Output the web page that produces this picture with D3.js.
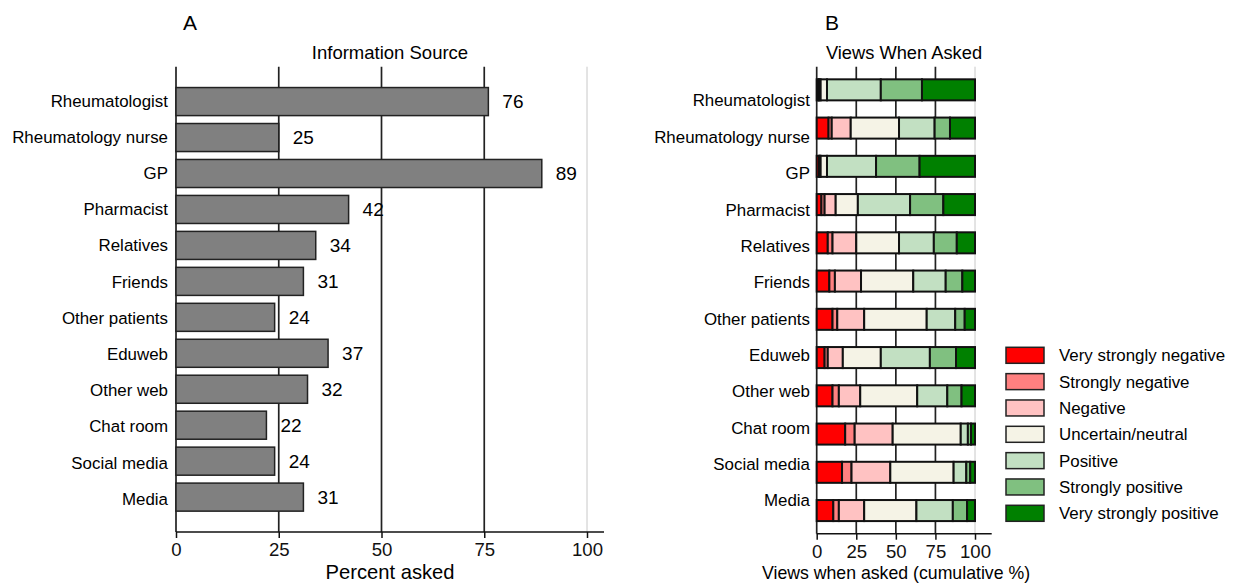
<!DOCTYPE html>
<html><head><meta charset="utf-8">
<script src="https://cdn.jsdelivr.net/npm/d3@7"></script>
<style>
body{margin:0;background:#fff;}
svg{font-family:"Liberation Sans",Arial,sans-serif;}
</style></head>
<body>
<svg id="chart" width="1234" height="585"></svg>
<script>
const categories = ["Rheumatologist","Rheumatology nurse","GP","Pharmacist","Relatives","Friends","Other patients","Eduweb","Other web","Chat room","Social media","Media"];
const percentAsked = [76,25,89,42,34,31,24,37,32,22,24,31];
const xTicks = [0,25,50,75,100];

const levelNames = ["Very strongly negative","Strongly negative","Negative","Uncertain/neutral","Positive","Strongly positive","Very strongly positive"];
const levelColors = ["#ff0000","#ff8080","#ffc2c2","#f5f3e6","#c2e0c2","#80c080","#008000"];
const veryStronglyNegative = [1, 7.5, 1.5, 3, 7, 8, 10, 5, 10, 18, 16, 10.5];
const stronglyNegative     = [0.5, 2, 0.5, 2, 3, 3.5, 3, 2, 4, 6, 6, 3.5];
const negative             = [1, 12, 0.5, 7, 15, 16.5, 17, 9.5, 13.5, 24, 24.5, 16];
const uncertainNeutral     = [4, 30.5, 4, 14, 27, 33, 39.5, 24, 36, 43, 40, 33];
const positive             = [34, 22.5, 31, 33, 22, 20.5, 18, 31, 19, 4.5, 8, 23];
const stronglyPositive     = [26, 9.7, 27.5, 21, 14.5, 10.5, 6, 16.5, 9, 2, 2.5, 9];
const veryStronglyPositive = [33.5, 15.8, 35, 20, 11.5, 8, 6.5, 12, 8.5, 2.5, 3, 5];
const levelSeries = [veryStronglyNegative, stronglyNegative, negative, uncertainNeutral, positive, stronglyPositive, veryStronglyPositive];

const svg = d3.select("#chart");
const dark = "#222";

// ---------- Panel A ----------
const xA = d3.scaleLinear().domain([0,100]).range([176,587]);
const yA = d3.scaleBand().domain(categories).range([66.7,532]).paddingInner(0.22).paddingOuter(0.58);
const yALab = d3.scalePoint().domain(categories).range([100.7,499]);
const gA = svg.append("g");

gA.append("text").attr("x",183).attr("y",30).attr("font-size",21).text("A");
gA.append("text").attr("x",390).attr("y",59).attr("text-anchor","middle").attr("font-size",18.5).text("Information Source");

gA.selectAll("line.grid").data(xTicks).join("line")
  .attr("x1",d=>xA(d)).attr("x2",d=>xA(d)).attr("y1",66.7).attr("y2",532)
  .attr("stroke",d=>d===100?"#c8c8c8":dark).attr("stroke-width",d=>d===100?1:1.7);

gA.selectAll("rect.bar").data(categories).join("rect")
  .attr("x",xA(0)).attr("y",d=>yA(d))
  .attr("width",(d,i)=>xA(percentAsked[i])-xA(0)).attr("height",yA.bandwidth())
  .attr("fill","#808080").attr("stroke",dark).attr("stroke-width",1.5);

gA.selectAll("text.val").data(categories).join("text")
  .attr("x",(d,i)=>xA(percentAsked[i])+14).attr("y",d=>yA(d)+yA.bandwidth()/2)
  .attr("dy","0.35em").attr("font-size",19).text((d,i)=>percentAsked[i]);

gA.selectAll("text.cat").data(categories).join("text")
  .attr("x",168).attr("y",d=>yALab(d)).attr("dy","0.35em")
  .attr("text-anchor","end").attr("font-size",16.9).text(d=>d);

const axA = gA.append("g").attr("transform","translate(0,532)")
  .call(d3.axisBottom(xA).tickValues(xTicks).tickSize(6).tickSizeOuter(0).tickPadding(5));
axA.select(".domain").remove();
axA.selectAll(".tick line").attr("stroke","#111").attr("stroke-width",1.5);
axA.selectAll(".tick text").attr("font-size",18.6).attr("fill","#111").attr("font-family","Liberation Sans, Arial, sans-serif");
axA.append("line").attr("x1",xA(0)).attr("x2",604).attr("y1",0).attr("y2",0).attr("stroke","#111").attr("stroke-width",1.5);
gA.append("text").attr("x",390).attr("y",579).attr("text-anchor","middle").attr("font-size",20.2).text("Percent asked");

// ---------- Panel B ----------
const xB = d3.scaleLinear().domain([0,100]).range([816.7,975]);
const yB = d3.scaleBand().domain(categories).range([66.7,533.7]).paddingInner(0.45).paddingOuter(0.33);
const yBLab = d3.scalePoint().domain(categories).range([100.5,500.5]);
const gB = svg.append("g");

gB.append("text").attr("x",825).attr("y",30).attr("font-size",21).text("B");
gB.append("text").attr("x",904).attr("y",59).attr("text-anchor","middle").attr("font-size",18.3).text("Views When Asked");

gB.selectAll("line.grid").data(xTicks).join("line")
  .attr("x1",d=>xB(d)).attr("x2",d=>xB(d)).attr("y1",66.7).attr("y2",533.7)
  .attr("stroke",d=>d===100?"#c8c8c8":dark).attr("stroke-width",d=>d===100?1:1.7);

const stackRows = categories.map((c,i)=>{
  const row = {cat:c};
  levelNames.forEach((n,k)=>row[n]=levelSeries[k][i]);
  return row;
});
const stacked = d3.stack().keys(levelNames)(stackRows);

gB.selectAll("g.layer").data(stacked).join("g")
  .attr("fill",(d,k)=>levelColors[k])
  .selectAll("rect").data(d=>d).join("rect")
  .attr("x",d=>xB(d[0])).attr("width",d=>xB(d[1])-xB(d[0]))
  .attr("y",d=>yB(d.data.cat)).attr("height",yB.bandwidth())
  .attr("stroke","#111").attr("stroke-width",2);

gB.selectAll("text.cat").data(categories).join("text")
  .attr("x",810).attr("y",d=>yBLab(d)).attr("dy","0.35em")
  .attr("text-anchor","end").attr("font-size",16.9).text(d=>d);

const axB = gB.append("g").attr("transform","translate(0,533.7)")
  .call(d3.axisBottom(xB).tickValues(xTicks).tickSize(6).tickSizeOuter(0).tickPadding(5));
axB.select(".domain").remove();
axB.selectAll(".tick line").attr("stroke","#111").attr("stroke-width",1.5);
axB.selectAll(".tick text").attr("font-size",18.6).attr("fill","#111").attr("font-family","Liberation Sans, Arial, sans-serif");
axB.append("line").attr("x1",xB(0)).attr("x2",991.7).attr("y1",0).attr("y2",0).attr("stroke","#111").attr("stroke-width",1.5);
gB.append("text").attr("x",896).attr("y",579).attr("text-anchor","middle").attr("font-size",17.7).text("Views when asked (cumulative %)");

// ---------- Legend ----------
const legY = d3.scalePoint().domain(levelNames).range([355.3,513.3]);
const leg = svg.append("g");
leg.selectAll("rect").data(levelNames).join("rect")
  .attr("x",1006).attr("y",d=>legY(d)-8).attr("width",38).attr("height",16)
  .attr("fill",(d,k)=>levelColors[k]).attr("stroke",dark).attr("stroke-width",1.5);
leg.selectAll("text").data(levelNames).join("text")
  .attr("x",1059).attr("y",d=>legY(d)).attr("dy","0.35em").attr("font-size",16.9).text(d=>d);
</script>
</body></html>
